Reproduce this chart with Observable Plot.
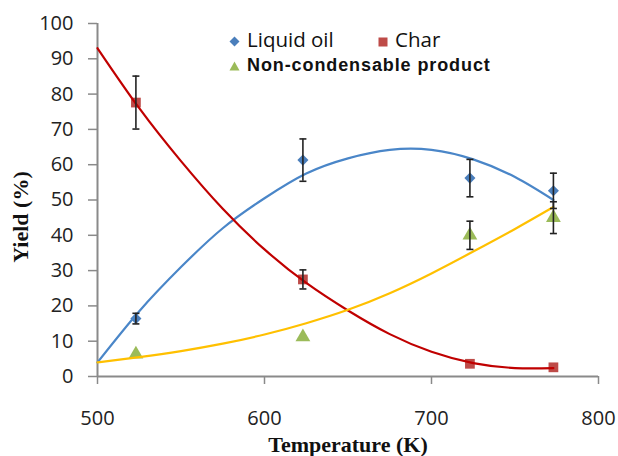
<!DOCTYPE html>
<html>
<head>
<meta charset="utf-8">
<script src="https://cdn.jsdelivr.net/npm/d3@7"></script>
<script src="https://cdn.jsdelivr.net/npm/@observablehq/plot@0.6"></script>
<style>
  html, body { margin: 0; padding: 0; background: #fff; }
  #wrap { position: relative; width: 618px; height: 456px; }
  .leg { position: absolute; white-space: nowrap; color: #111; }
  .l1 { font-family: "Open Sans", sans-serif; font-size: 20.5px; }
  .l2 { font-family: "Liberation Sans", Arial, sans-serif; font-weight: bold; font-size: 18px; letter-spacing: 0.9px; }
  .ytitle { position: absolute; left: 21px; top: 217px; transform: translate(-50%, -50%) rotate(-90deg);
            font-family: "Liberation Serif", "Times New Roman", serif; font-weight: bold; font-size: 22px; color: #111; white-space: nowrap; }
</style>
</head>
<body>
<div id="wrap"></div>
<script>
// Measured points (temperature K, yield %)
const temps = [523, 623, 723, 773];
const oilYield = [16.4, 61.3, 56.2, 52.6];
const oilErr = [1.5, 6.0, 5.3, 5.0];
const charYield = [77.6, 27.5, 3.6, 2.6];
const charErr = [7.5, 2.7, 0, 0];
const gasYield = [6.3, 11.2, 40.0, 45.0];
const gasErr = [0, 0, 4.0, 4.5];

// Fitted curves
const fitT = [500, 525, 550, 575, 600, 625, 650, 675, 700, 725, 750, 773];
const oilFit = [4, 18.5, 31, 42, 50.5, 57.5, 61.8, 64.2, 64.2, 61.5, 56.5, 50];
const charFit = [93, 76, 61, 47.5, 36, 26.5, 18.7, 12, 7, 3.8, 2.4, 2.4];
const gasFit = [4, 5.5, 7.2, 9.3, 11.9, 15.1, 18.9, 23.6, 29.2, 35.4, 41.8, 48];

const xTicks = [500, 600, 700, 800];
const yTicks = [0, 10, 20, 30, 40, 50, 60, 70, 80, 90, 100];
const xTitle = "Temperature (K)";
const yTitle = "Yield (%)";

const colors = { oil: "#4a7ebb", char: "#be4b48", gas: "#9bbb59" };
const lineColors = { oil: "#4a86c8", char: "#c00000", gas: "#ffc000" };

const pts = [];
temps.forEach((t, i) => {
  pts.push({ s: "oil", t, y: oilYield[i], e: oilErr[i] });
  pts.push({ s: "char", t, y: charYield[i], e: charErr[i] });
  pts.push({ s: "gas", t, y: gasYield[i], e: gasErr[i] });
});
const errPts = pts.filter(d => d.e > 0);
const fits = [];
fitT.forEach((t, i) => {
  fits.push({ s: "oil", t, y: oilFit[i] });
  fits.push({ s: "char", t, y: charFit[i] });
  fits.push({ s: "gas", t, y: gasFit[i] });
});

const cap = { draw(ctx, size) { const w = 3.5; ctx.moveTo(-w, 0); ctx.lineTo(w, 0); } };
const axisGray = "#8a8a8a";

const chart = Plot.plot({
  width: 618,
  height: 456,
  marginLeft: 97,
  marginRight: 20,
  marginTop: 23,
  marginBottom: 80,
  style: { fontFamily: "'Open Sans', sans-serif", background: "#fff", overflow: "visible" },
  x: { domain: [500, 800] },
  y: { domain: [0, 100] },
  marks: [
    Plot.axisX({ ticks: xTicks, tickSize: 8, tickPadding: 26, fontSize: 20, stroke: axisGray, strokeWidth: 1.5, fill: "#222", label: null, tickFormat: d => String(d) }),
    Plot.axisY({ ticks: yTicks, tickSize: 9, tickPadding: 15, fontSize: 20, stroke: axisGray, strokeWidth: 1.5, fill: "#222", label: null }),
    Plot.ruleY([0], { stroke: axisGray, strokeWidth: 2 }),
    Plot.ruleX([500], { stroke: axisGray, strokeWidth: 2 }),
    // markers
    Plot.dot(pts.filter(d => d.s === "oil"), { x: "t", y: "y", symbol: "diamond2", r: 5, fill: colors.oil }),
    Plot.dot(pts.filter(d => d.s === "char"), { x: "t", y: "y", symbol: "square", r: 5.5, fill: colors.char }),
    Plot.dot(pts.filter(d => d.s === "gas"), { x: "t", y: "y", symbol: "triangle", r: 5.5, fill: colors.gas }),
    // fitted curves
    Plot.line(fits, { x: "t", y: "y", z: "s", stroke: d => lineColors[d.s], strokeWidth: 2.2, curve: "natural" }),
    // error bars
    Plot.ruleX(errPts, { x: "t", y1: d => d.y - d.e, y2: d => d.y + d.e, stroke: "#222", strokeWidth: 1.6 }),
    Plot.dot(errPts, { x: "t", y: d => d.y - d.e, symbol: cap, r: 3, stroke: "#222", strokeWidth: 1.6, fill: "none" }),
    Plot.dot(errPts, { x: "t", y: d => d.y + d.e, symbol: cap, r: 3, stroke: "#222", strokeWidth: 1.6, fill: "none" }),
    // x axis title
    Plot.text([xTitle], { frameAnchor: "bottom", dy: 75, text: d => d, fontFamily: "'Liberation Serif', 'Times New Roman', serif", fontWeight: "bold", fontSize: 22, fill: "#111" })
  ]
});

const wrap = document.getElementById("wrap");
wrap.appendChild(chart);

const yt = document.createElement("div");
yt.className = "ytitle";
yt.textContent = yTitle;
wrap.appendChild(yt);

// Legend overlay
const legendItems = [
  { label: "Liquid oil", cls: "l1", color: colors.oil, shape: "diamond", left: 229, top: 25 },
  { label: "Char", cls: "l1", color: colors.char, shape: "square", left: 378, top: 25 },
  { label: "Non-condensable product", cls: "l2", color: colors.gas, shape: "triangle", left: 229, top: 55 }
];
const shapes = {
  diamond: c => `<svg width="11" height="11" style="vertical-align:middle"><path d="M5.5 0.5L10.5 5.5L5.5 10.5L0.5 5.5Z" fill="${c}"/></svg>`,
  square: c => `<svg width="10" height="10" style="vertical-align:middle"><rect x="0.5" y="0.5" width="9" height="9" fill="${c}"/></svg>`,
  triangle: c => `<svg width="11" height="10" style="vertical-align:middle"><path d="M5.5 0.5L10.5 9.5L0.5 9.5Z" fill="${c}"/></svg>`
};
legendItems.forEach(it => {
  const div = document.createElement("div");
  div.className = "leg " + it.cls;
  div.style.left = it.left + "px";
  div.style.top = it.top + "px";
  div.innerHTML = shapes[it.shape](it.color) + `<span style="margin-left:7px">${it.label}</span>`;
  wrap.appendChild(div);
});
</script>
</body>
</html>
